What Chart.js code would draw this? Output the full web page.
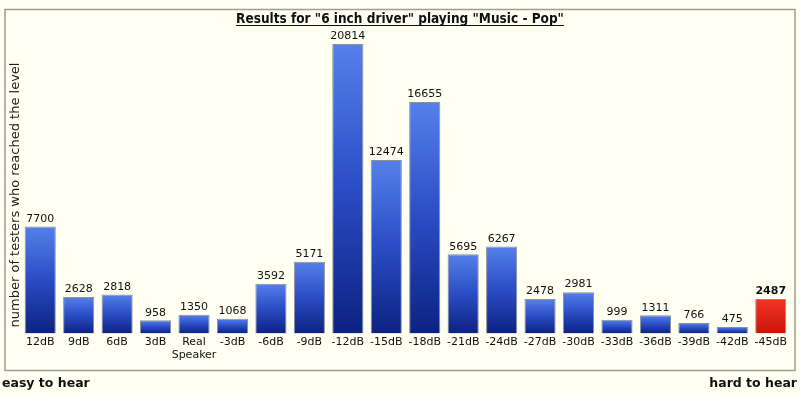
<!DOCTYPE html>
<html>
<head>
<meta charset="utf-8">
<script src="https://cdn.jsdelivr.net/npm/chart.js@4/dist/chart.umd.min.js"></script>
<style>
  html, body { margin: 0; padding: 0; background: #fffff2; }
  #wrap { width: 800px; height: 397px; position: relative; }
</style>
</head>
<body>
<div id="wrap"><canvas id="resultsChart"></canvas></div>
<script>
// ##################### DATA #######################
const chartTitle = 'Results for "6 inch driver" playing "Music - Pop"'
const yTitle = 'number of testers who reached the level'
const levels = ['12dB', '9dB', '6dB', '3dB', ['Real', 'Speaker'], '-3dB', '-6dB', '-9dB', '-12dB', '-15dB',
    '-18dB', '-21dB', '-24dB', '-27dB', '-30dB', '-33dB', '-36dB', '-39dB', '-42dB', '-45dB']
const testers = [7700, 2628, 2818, 958, 1350, 1068, 3592, 5171, 20814, 12474,
    16655, 5695, 6267, 2478, 2981, 999, 1311, 766, 475, 2487]
const highlighted = '-45dB'
const footLeft = 'easy to hear'
const footRight = 'hard to hear'

const isHighlight = i => levels[i] === highlighted

// vertical gradient per bar, blue normally, red for the highlighted level
function barFill(c) {
    const chart = c.chart
    if (!chart.chartArea || c.type !== 'data') return '#2a4fc8'
    const y = chart.scales.y
    const top = y.getPixelForValue(c.raw)
    const bottom = y.getPixelForValue(0)
    const g = chart.ctx.createLinearGradient(0, top, 0, bottom)
    if (isHighlight(c.dataIndex)) {
        g.addColorStop(0, '#f03524')
        g.addColorStop(1, '#c8140a')
    } else {
        g.addColorStop(0, '#5580ea')
        g.addColorStop(0.5, '#2a4cc4')
        g.addColorStop(1, '#0b2280')
    }
    return g
}

// ##################### PLUGINS #######################
const frame = {
    id: 'frame',
    beforeDraw(chart) {
        const ctx = chart.ctx
        ctx.save()
        ctx.strokeStyle = '#9c9c92'
        ctx.lineWidth = 1.5
        ctx.strokeRect(5, 9.5, 790, 361)
        ctx.restore()
    },
    afterDraw(chart) {
        const ctx = chart.ctx
        ctx.save()
        ctx.fillStyle = '#111'
        // title, underlined
        ctx.font = 'bold 13.5px "DejaVu Sans Condensed", "DejaVu Sans", sans-serif'
        ctx.textAlign = 'center'
        ctx.textBaseline = 'alphabetic'
        const w = ctx.measureText(chartTitle).width
        ctx.fillText(chartTitle, 400, 23)
        ctx.fillRect(400 - w / 2, 25, w, 1)
        // y axis title
        ctx.save()
        ctx.translate(16, 195)
        ctx.rotate(-Math.PI / 2)
        ctx.font = '13px "DejaVu Sans", sans-serif'
        ctx.textAlign = 'center'
        ctx.textBaseline = 'middle'
        ctx.fillStyle = '#222'
        ctx.fillText(yTitle, 0, 0)
        ctx.restore()
        // footer
        ctx.font = 'bold 12.5px "DejaVu Sans", sans-serif'
        ctx.textBaseline = 'middle'
        ctx.textAlign = 'left'
        ctx.fillText(footLeft, 2, 384)
        ctx.textAlign = 'right'
        ctx.fillText(footRight, 797, 384)
        ctx.restore()
    }
}

const valueLabels = {
    id: 'valueLabels',
    afterDatasetsDraw(chart) {
        const ctx = chart.ctx
        const meta = chart.getDatasetMeta(0)
        ctx.save()
        ctx.textAlign = 'center'
        ctx.textBaseline = 'bottom'
        meta.data.forEach((bar, i) => {
            ctx.font = (isHighlight(i) ? 'bold ' : '') + '11px "DejaVu Sans", sans-serif'
            ctx.fillStyle = '#111'
            ctx.fillText(String(testers[i]), bar.x, bar.y - 2)
        })
        ctx.restore()
    }
}

// ##################### RESULTS CHART #######################
const ctx = document.getElementById('resultsChart')
const resultsChart = new Chart(ctx, {
    type: 'bar',
    data: {
        labels: levels,
        datasets: [{
            data: testers,
            backgroundColor: barFill,
            borderColor: 'rgba(50,50,80,0.55)',
            borderWidth: 1,
            categoryPercentage: 1,
            barPercentage: 0.81,
        }]
    },
    options: {
        responsive: true,
        maintainAspectRatio: false,
        animation: false,
        layout: {
            padding: { left: 21, right: 10, top: 31, bottom: 33 }
        },
        plugins: {
            legend: { display: false },
            tooltip: { enabled: false },
            title: { display: false },
        },
        scales: {
            x: {
                grid: { display: false, drawTicks: false },
                border: { display: false },
                ticks: {
                    autoSkip: false,
                    maxRotation: 0,
                    padding: 2,
                    color: '#111',
                    font: { family: '"DejaVu Sans", sans-serif', size: 11 },
                },
            },
            y: {
                display: false,
                min: 0,
                max: 21750,
            }
        }
    },
    plugins: [frame, valueLabels]
})
</script>
</body>
</html>
